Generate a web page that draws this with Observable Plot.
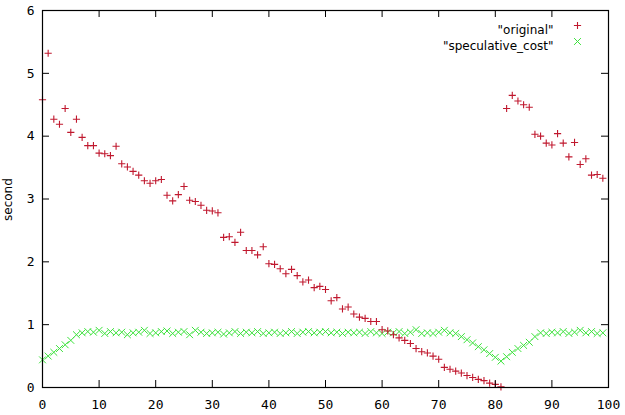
<!DOCTYPE html>
<html>
<head>
<meta charset="utf-8">
<script src="https://cdn.jsdelivr.net/npm/d3@7"></script>
<script src="https://cdn.jsdelivr.net/npm/@observablehq/plot@0.6"></script>
<style>
  html, body { margin: 0; padding: 0; background: #fff; }
  #chart svg { display: block; }
</style>
</head>
<body>
<div id="chart"></div>
<script>
const seriesNames = ["original", "speculative_cost"];
const original = [
  4.58, 5.32, 4.27, 4.19, 4.44, 4.06, 4.27, 3.98, 3.85, 3.85,
  3.73, 3.72, 3.69, 3.84, 3.56, 3.51, 3.44, 3.38, 3.29, 3.25,
  3.29, 3.31, 3.06, 2.97, 3.07, 3.20, 2.98, 2.96, 2.90, 2.82,
  2.81, 2.78, 2.39, 2.40, 2.31, 2.47, 2.18, 2.18, 2.11, 2.24,
  1.97, 1.96, 1.89, 1.81, 1.88, 1.78, 1.68, 1.71, 1.59, 1.61,
  1.56, 1.38, 1.43, 1.25, 1.28, 1.17, 1.12, 1.10, 1.05, 1.05,
  0.92, 0.90, 0.84, 0.79, 0.75, 0.70, 0.62, 0.57, 0.55, 0.50,
  0.45, 0.32, 0.29, 0.26, 0.23, 0.19, 0.16, 0.13, 0.11, 0.07,
  0.05, 0.01, 4.44, 4.65, 4.56, 4.50, 4.46, 4.03, 4.00, 3.89,
  3.86, 4.04, 3.89, 3.67, 3.90, 3.55, 3.64, 3.38, 3.39, 3.33
];
const speculativeCost = [
  0.44, 0.50, 0.56, 0.62, 0.68, 0.75, 0.84, 0.87, 0.89, 0.88,
  0.91, 0.86, 0.89, 0.87, 0.88, 0.84, 0.87, 0.88, 0.91, 0.86,
  0.87, 0.89, 0.90, 0.86, 0.88, 0.89, 0.84, 0.91, 0.88, 0.86,
  0.87, 0.88, 0.85, 0.87, 0.89, 0.86, 0.88, 0.87, 0.89, 0.86,
  0.87, 0.88, 0.86, 0.87, 0.89, 0.86, 0.88, 0.89, 0.87, 0.88,
  0.89, 0.87, 0.88, 0.86, 0.88, 0.87, 0.88, 0.86, 0.89, 0.87,
  0.86, 0.88, 0.87, 0.89, 0.86, 0.88, 0.92, 0.86, 0.87, 0.86,
  0.88, 0.91, 0.87, 0.86, 0.81, 0.76, 0.71, 0.65, 0.60, 0.54,
  0.48, 0.42, 0.49, 0.56, 0.62, 0.67, 0.72, 0.81, 0.87, 0.86,
  0.88, 0.87, 0.89, 0.86, 0.88, 0.91, 0.87, 0.89, 0.86, 0.87
];
const xTicks = [0, 10, 20, 30, 40, 50, 60, 70, 80, 90, 100];
const yTicks = [0, 1, 2, 3, 4, 5, 6];
const yLabel = "second";

const W = 625, H = 415;
const mL = 42, mR = 17, mT = 10, mB = 28;
const innerW = W - mL - mR, innerH = H - mT - mB;
const tickLen = 7;
const red = "#c0182e", green = "#3be23b";
const mono = "'DejaVu Sans Mono', monospace";
const sans = "'DejaVu Sans', sans-serif";

const origData = original.map((v, i) => ({x: i, y: v}));
const specData = speculativeCost.map((v, i) => ({x: i, y: v}));

const plot = Plot.plot({
  width: W, height: H,
  marginLeft: mL, marginRight: mR, marginTop: mT, marginBottom: mB,
  style: {background: "#fff", overflow: "visible"},
  x: {domain: [0, 100]},
  y: {domain: [0, 6]},
  marks: [
    // series
    Plot.dot(specData, {x: "x", y: "y", symbol: "times", r: 3.2, stroke: green, strokeWidth: 1}),
    Plot.dot(origData, {x: "x", y: "y", symbol: "plus", r: 2.45, stroke: red, strokeWidth: 1.1}),
    // inward ticks (gnuplot style, mirrored)
    Plot.tickX(xTicks, {x: d => d, stroke: "#000", insetTop: innerH - tickLen}),
    Plot.tickX(xTicks, {x: d => d, stroke: "#000", insetBottom: innerH - tickLen}),
    Plot.tickY(yTicks, {y: d => d, stroke: "#000", insetRight: innerW - tickLen}),
    Plot.tickY(yTicks, {y: d => d, stroke: "#000", insetLeft: innerW - tickLen}),
    Plot.frame({stroke: "#000", strokeWidth: 1.2}),
    // axes labels
    Plot.axisX(xTicks, {tickSize: 0, tickPadding: 12, tickFormat: d => String(d), label: null, fontFamily: mono, fontSize: 13, fill: "#000"}),
    Plot.axisY(yTicks, {tickSize: 0, tickPadding: 8, tickFormat: d => String(d), label: null, fontFamily: mono, fontSize: 13, fill: "#000"}),
    Plot.text([yLabel], {frameAnchor: "left", dx: -34, dy: 22, rotate: -90, fontFamily: sans, fontSize: 12, fill: "#000"}),
    // legend
    Plot.text([`"${seriesNames[0]}"`], {frameAnchor: "top-right", dx: -55, dy: 15, textAnchor: "end", fontFamily: sans, fontSize: 12, fill: "#000"}),
    Plot.text([`"${seriesNames[1]}"`], {frameAnchor: "top-right", dx: -55, dy: 31, textAnchor: "end", fontFamily: sans, fontSize: 12, fill: "#000"}),
    Plot.dot([0], {frameAnchor: "top-right", dx: -31, dy: 15, symbol: "plus", r: 2.45, stroke: red, strokeWidth: 1.1}),
    Plot.dot([0], {frameAnchor: "top-right", dx: -31, dy: 31, symbol: "times", r: 3.2, stroke: green, strokeWidth: 1})
  ]
});
document.getElementById("chart").appendChild(plot);
</script>
</body>
</html>
